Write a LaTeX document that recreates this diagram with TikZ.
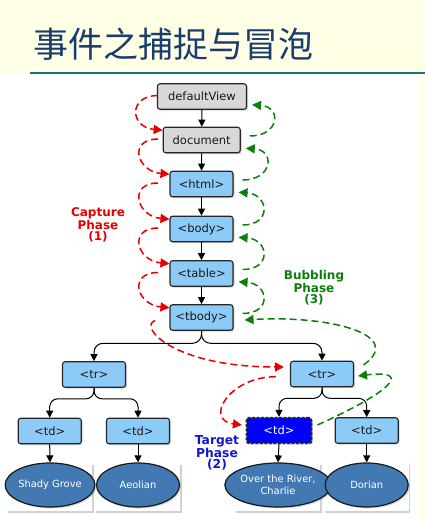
\documentclass[tikz,border=0pt]{standalone}
\usepackage{fontspec}
\setmainfont{DejaVu Sans}
\newfontfamily\cjkfont{Noto Sans CJK SC}
\usetikzlibrary{arrows.meta,calc,shadows,shapes.geometric}
\definecolor{bgyellow}{HTML}{FFFFE5}
\definecolor{teal0}{HTML}{0E7C7B}
\definecolor{titleblue}{HTML}{1A3D6E}
\definecolor{boxblue}{HTML}{8CCBF7}
\definecolor{boxgray}{HTML}{D8D8D8}
\definecolor{ellblue}{HTML}{4379B3}
\definecolor{capred}{HTML}{E60000}
\definecolor{bubgreen}{HTML}{0A800A}
\definecolor{tgtblue}{HTML}{1414D2}
\begin{document}
\begin{tikzpicture}[x=1pt,y=1pt,
  box/.style={draw=black!85, line width=1.1pt, rounded corners=2.5pt, fill=boxblue,
    minimum height=25.5pt, inner sep=0pt, text=black!90,
    font=\fontsize{11.5}{13}\selectfont,
    drop shadow={shadow xshift=1.5pt,shadow yshift=-1.5pt,opacity=0.35}},
  graybox/.style={box, fill=boxgray},
  tgtbox/.style={box, fill=blue, text=white, dash pattern=on 3pt off 1.5pt, line width=1.8pt},
  leaf/.style={ellipse, draw=black!90, line width=1.2pt, fill=ellblue, text=white,
    minimum width=83pt, minimum height=44pt, inner sep=0pt, align=center,
    font=\fontsize{9.9}{12}\selectfont,
    drop shadow={shadow xshift=1.5pt,shadow yshift=-1.5pt,opacity=0.3}},
  tree/.style={draw=black, line width=1pt, -{Triangle[length=7pt,width=7pt]}},
  capline/.style={draw=capred, line width=1.5pt, dash pattern=on 7pt off 4pt,
    -{Triangle[length=9pt,width=9pt]}},
  bubline/.style={draw=bubgreen, line width=1.5pt, dash pattern=on 7pt off 4pt,
    -{Triangle[length=9pt,width=9pt]}},
  phase/.style={font=\fontsize{12}{11.5}\selectfont\bfseries, align=center},
  frameline/.style={draw=black!18, line width=1.3pt}
]
\useasboundingbox (0,0) rectangle (425,520);
\fill[bgyellow] (0,0) rectangle (425,520);
\fill[white] (0,0) rectangle (418,446);
\draw[teal0, line width=2pt] (30,447) -- (425,447);

\node[font=\cjkfont\fontsize{35}{40}\selectfont, text=titleblue] (title) at (174,476) {事件之捕捉与冒泡};

% frame lines behind leaves
\foreach \cx in {50,138,278,366.7}{
  \draw[frameline] (\cx-42,8) -- (\cx+43,8) -- (\cx+43,55);
}

% nodes
\node[graybox, minimum width=89pt] (dv) at (202,423.5) {defaultView};
\node[graybox, minimum width=77pt] (doc) at (201.7,380) {document};
\node[box, minimum width=63pt] (html) at (201.5,336) {<html>};
\node[box, minimum width=63pt] (body) at (201.5,291) {<body>};
\node[box, minimum width=63pt] (table) at (201.5,246.5) {<table>};
\node[box, minimum width=63pt] (tbody) at (201.5,202.5) {<tbody>};
\node[box, minimum width=63pt] (trL) at (94,145.5) {<tr>};
\node[box, minimum width=63pt] (trR) at (322,146) {<tr>};
\node[box, minimum width=63pt] (td1) at (49.7,89) {<td>};
\node[box, minimum width=63pt] (td2) at (138,89) {<td>};
\node[tgtbox, minimum width=65pt] (td3) at (279,89.5) {<td>};
\node[box, minimum width=63pt] (td4) at (366.7,89.5) {<td>};
\node[leaf] (e1) at (50,35) {Shady Grove};
\node[leaf] (e2) at (138,35) {Aeolian};
\node[leaf] (e3) at (278,35) {Over the River,\\Charlie};
\node[leaf] (e4) at (366.7,35) {Dorian};

% labels
\node[phase, text=capred] (capl) at (98,295) {Capture\\Phase\\(1)};
\node[phase, text=bubgreen] (bubl) at (314,232) {Bubbling\\Phase\\(3)};
\node[phase, text=tgtblue, font=\fontsize{12.3}{11.5}\selectfont\bfseries] (tgtl) at (217,67) {Target\\Phase\\(2)};

% tree connectors
\draw[tree] (dv) -- (doc);
\draw[tree] (doc) -- (html);
\draw[tree] (html) -- (body);
\draw[tree] (body) -- (table);
\draw[tree] (table) -- (tbody);
\draw[tree, rounded corners=9pt] (tbody.south) -- ++(0,-12.5) -| (trL.north);
\draw[tree, rounded corners=9pt] (tbody.south) -- ++(0,-12.5) -| (trR.north);
\draw[tree, rounded corners=8pt] (trL.south) -- ++(0,-11) -| (td1.north);
\draw[tree, rounded corners=8pt] (trL.south) -- ++(0,-11) -| (td2.north);
\draw[tree, rounded corners=8pt] (trR.south) -- ++(0,-11) -| (td3.north);
\draw[tree, rounded corners=8pt] (trR.south) -- ++(0,-11) -| (td4.north);
\draw[tree] (td1.south) -- (e1.north);
\draw[tree] (td2.south) -- (e2.north);
\draw[tree] (td3.south) -- (e3.north);
\draw[tree] (td4.south) -- (e4.north);

% capture arcs
\coordinate (rx) at (158,0);
\foreach \a/\b in {dv/doc,doc/html,html/body,body/table,table/tbody}{
  \draw[capline] ($(\a.west -| rx)+(0,1)$) .. controls +(-30,0) and +(-33,3) .. ($(\b.north west)+(0,-3.5)$);
}
\draw[capline] ($(tbody.west -| rx)+(-3,-3)$) .. controls +(-17,-6.5) and +(-110,0) .. ($(trR.west)+(-6,7)$);
\draw[capline] ($(trR.west)+(-14,-2.7)$) .. controls +(-47,0) and +(-38,5) .. ($(td3.west)+(-3.7,5.5)$);

% bubbling arcs
\foreach \a/\b in {doc/dv,html/doc,body/html,table/body,tbody/table}{
  \draw[bubline] ($(\a.east)+(9,4)$) .. controls +(30,0) and +(30,-2) .. ($(\b.south east)+(5,5)$);
}
\draw[bubline] ($(td3.east)+(5,5.5)$) .. controls +(88,40) and +(47,6) .. ($(trR.east)+(4,-2)$);
\draw[bubline] ($(trR.east)+(9.5,9)$) .. controls +(42,30) and +(86,5) .. ($(tbody.east)+(11,-2.5)$);
\end{tikzpicture}
\end{document}
